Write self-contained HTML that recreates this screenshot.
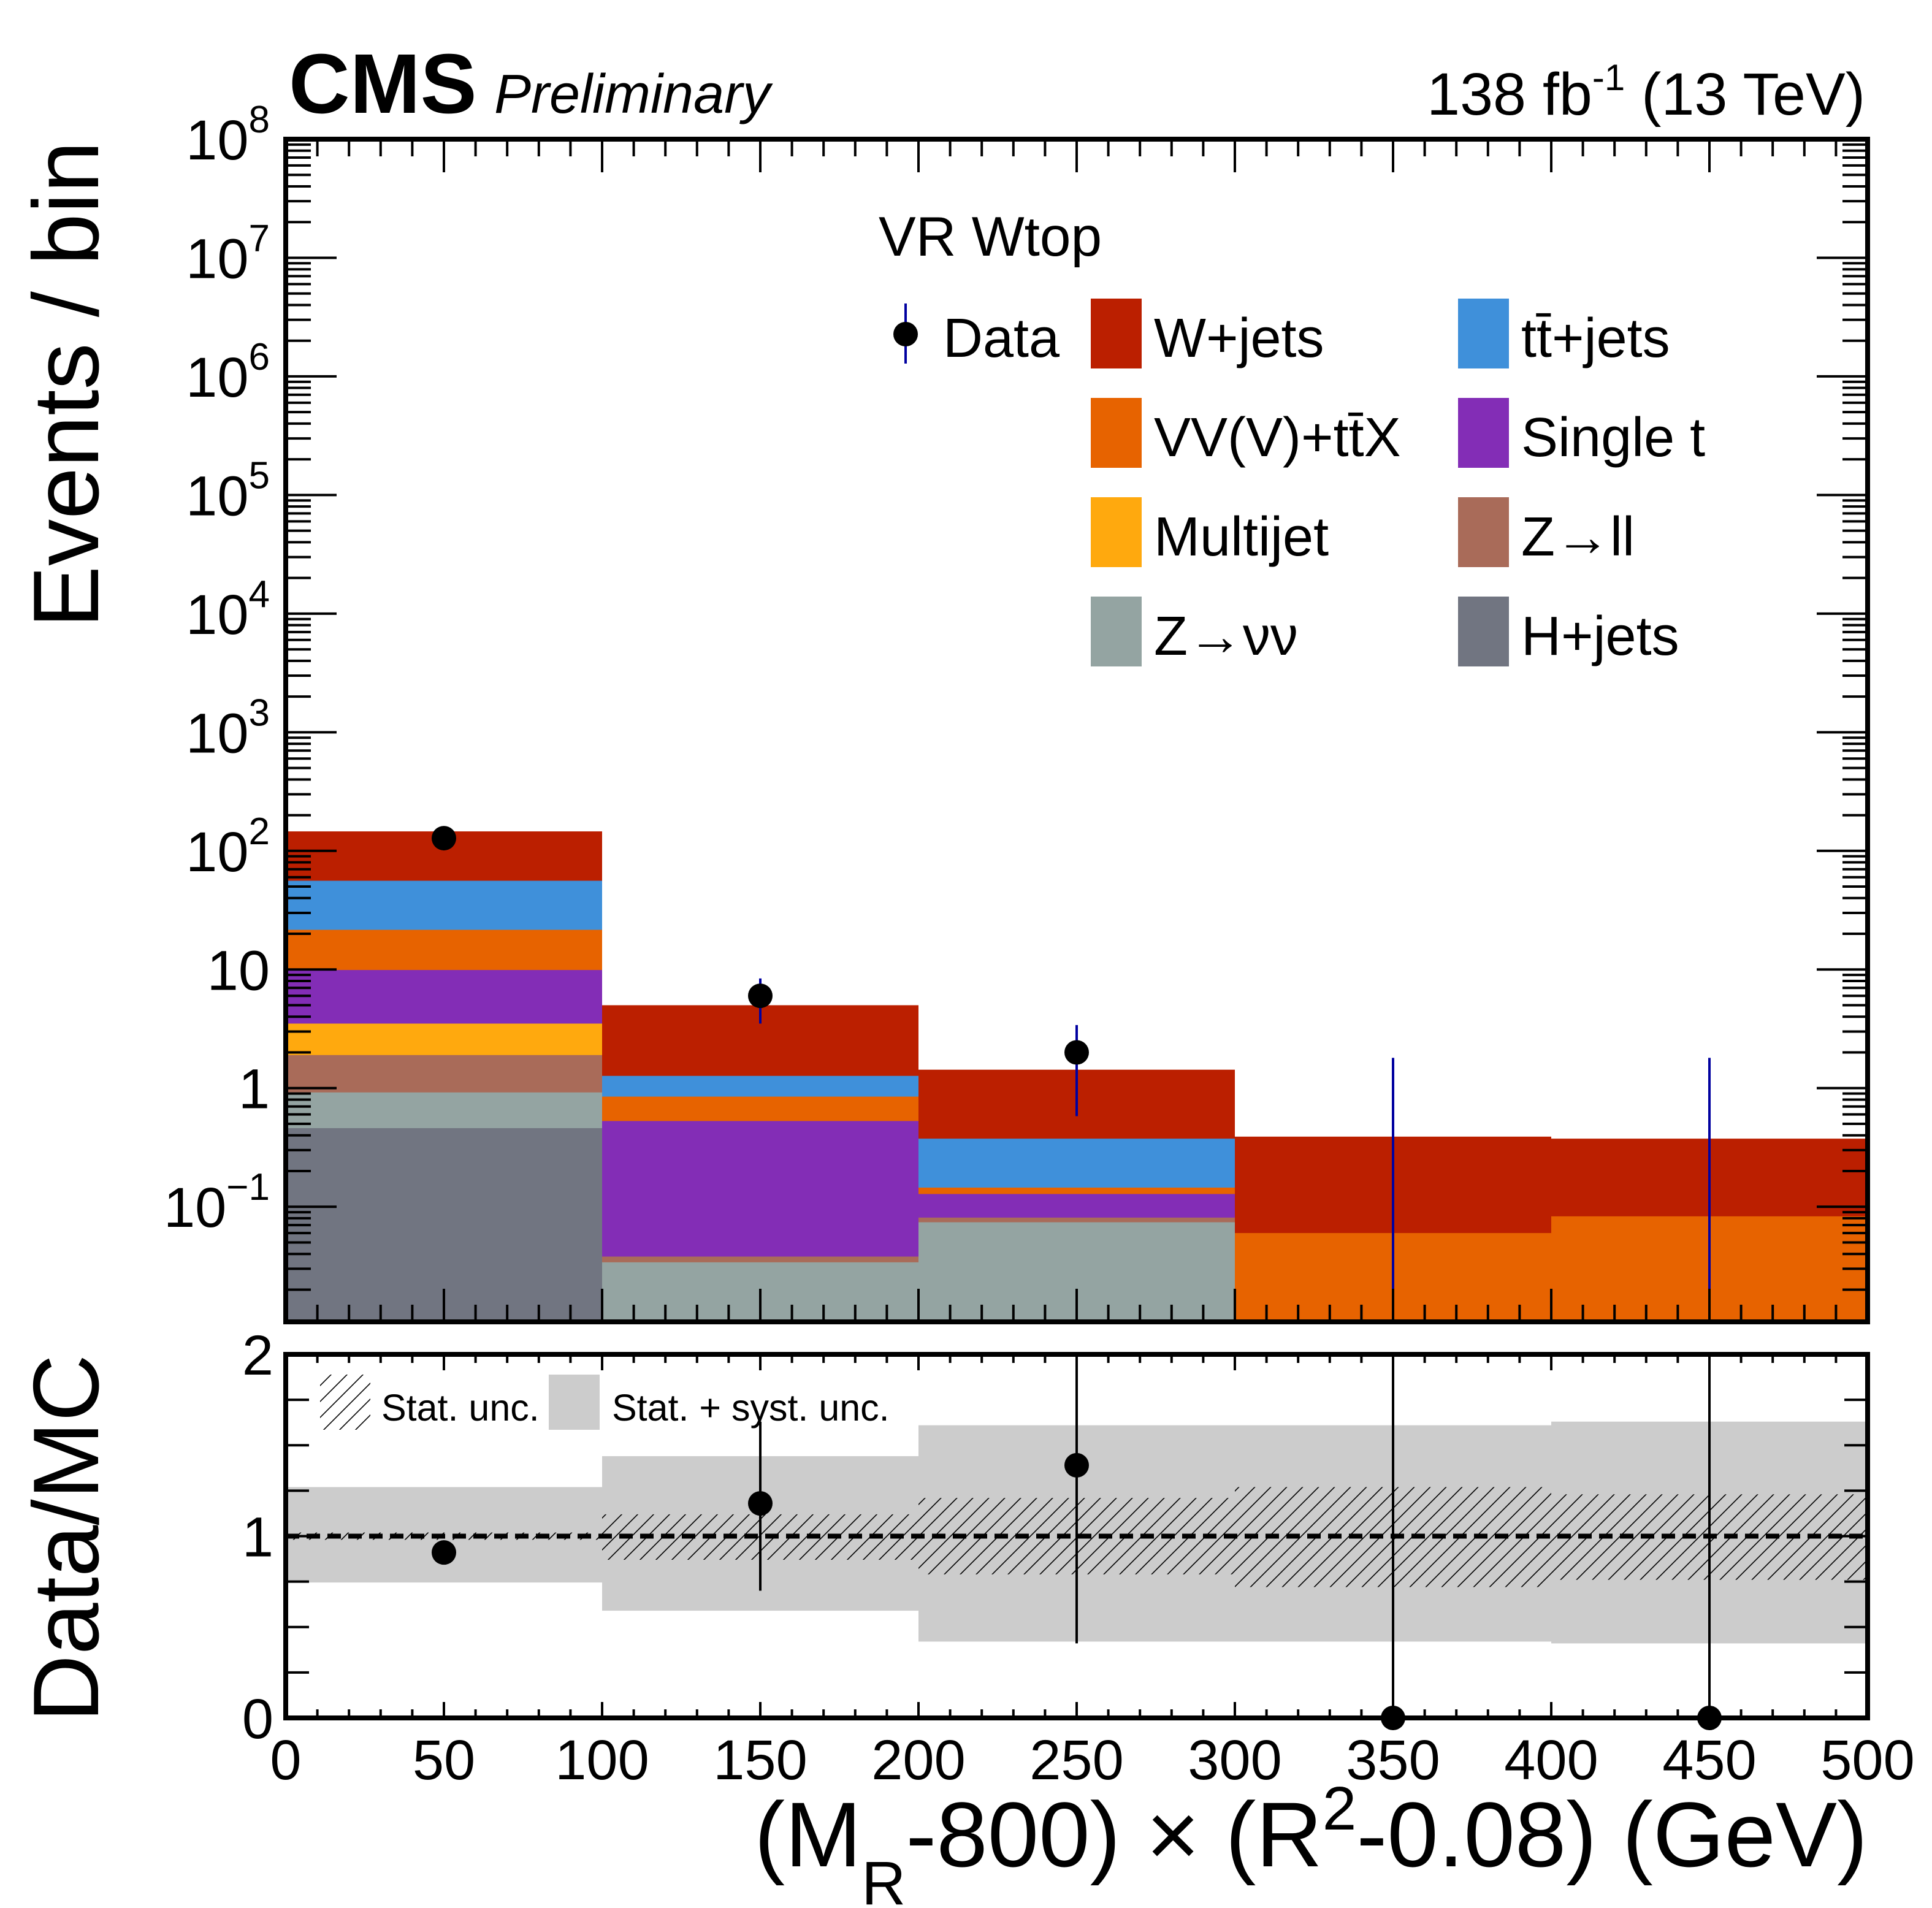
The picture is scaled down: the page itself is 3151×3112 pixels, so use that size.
<!DOCTYPE html>
<html><head><meta charset="utf-8"><style>
html,body{margin:0;padding:0;background:#fff;}
svg{display:block;font-family:"Liberation Sans",sans-serif;}
</style></head><body>
<svg id="c" width="3151" height="3112" viewBox="0 0 3151 3112" xmlns="http://www.w3.org/2000/svg">
<defs>
<pattern id="hatch" patternUnits="userSpaceOnUse" width="26" height="26">
<path d="M-2,28 L28,-2 M-15,15 L15,-15 M11,41 L41,11" stroke="#000" stroke-width="1.6"/>
</pattern>
<clipPath id="clipTop"><rect x="466" y="227" width="2580" height="1929"/></clipPath>
<clipPath id="clipBot"><rect x="466" y="2209" width="2580" height="593"/></clipPath>
</defs>
<g id="topPad"></g>
<g id="botPad"></g>
<g id="txt">
<text x="471" y="184" font-size="138" font-weight="bold">CMS</text>
<text x="806" y="184" font-size="90" font-style="italic">Preliminary</text>
<text x="3042" y="187" font-size="97" text-anchor="end">138 fb<tspan font-size="60" dy="-40">-1</tspan><tspan dy="40"> (13 TeV)</tspan></text>
<text x="1433" y="417" font-size="91">VR Wtop</text>
<text transform="translate(160,230) rotate(-90)" font-size="152" text-anchor="end">Events / bin</text>
<text transform="translate(160,2209) rotate(-90)" font-size="152" text-anchor="end">Data/MC</text>
<text x="3046" y="3044" font-size="150" text-anchor="end">(M<tspan font-size="100" dy="62">R</tspan><tspan dy="-62">-800) × (R</tspan><tspan font-size="100" dy="-60">2</tspan><tspan dy="60">-0.08) (GeV)</tspan></text>
</g>
</svg>
<script>
// ---- data ----
const binEdges = [0,100,200,300,400,500];
const seriesNames = ["H+jets","Z→νν","Z→ll","Multijet","Single t","VV(V)+tt̄X","tt̄+jets","W+jets"];
const seriesColors = ["#717581","#94a4a2","#a96b59","#ffa90e","#832db6","#e76300","#3f90da","#bb1f00"];
const hjets   = [0.46, 0, 0, 0, 0];
const zvv     = [0.46, 0.034, 0.074, 0, 0];
const zll     = [0.98, 0.004, 0.007, 0, 0];
const multijet= [1.6, 0, 0, 0, 0];
const singlet = [6.4, 0.49, 0.047, 0, 0];
const vvv     = [11.7, 0.32, 0.017, 0.060, 0.083];
const ttbar   = [34.4, 0.42, 0.23, 0, 0];
const wjets   = [90, 3.73, 1.055, 0.33, 0.292];
const dataVals = [128, 6.0, 2.0, 0, 0];
const dataErrUp = [140, 8.4, 3.4, 1.8, 1.8];
const dataErrDn = [117, 3.5, 0.58, 0.0107, 0.0107];
const ratioVals = [0.91, 1.18, 1.39, 0, 0];
const ratioErrUp = [0.93, 1.63, 2.1, 2.1, 2.1];
const ratioErrDn = [0.89, 0.70, 0.41, 0, 0];
const systUp = [1.27, 1.44, 1.61, 1.61, 1.63];
const systDn = [0.745, 0.59, 0.42, 0.42, 0.41];
const statUp = [1.02, 1.12, 1.21, 1.27, 1.23];
const statDn = [0.98, 0.87, 0.79, 0.72, 0.76];
const xTicks = [0,50,100,150,200,250,300,350,400,450,500];
const yExps = [8,7,6,5,4,3,2,1,0,-1];
const ratioTicks = [0,1,2];

// ---- axes ----
const X0=466, X1=3046, TY0=227, TY1=2156, BY0=2209, BY1=2802;
const LMIN=Math.log10(0.0107), LMAX=8;
const xs = v => X0 + (v-0)/(500-0)*(X1-X0);
const ys = v => TY1 - (Math.log10(Math.max(v,1e-9))-LMIN)/(LMAX-LMIN)*(TY1-TY0);
const yr = v => BY1 - v/2*(BY1-BY0);
const NS="http://www.w3.org/2000/svg";
function mk(parent, tag, attrs){const e=document.createElementNS(NS,tag);for(const k in attrs)e.setAttribute(k,attrs[k]);parent.appendChild(e);return e;}
const topG=document.getElementById('topPad'), botG=document.getElementById('botPad');
const stacks=[hjets,zvv,zll,multijet,singlet,vvv,ttbar,wjets];

const gTop = mk(topG,'g',{'clip-path':'url(#clipTop)'});
for(let b=0;b<5;b++){
  let cum=[];let s=0;
  for(let i=0;i<stacks.length;i++){s+=stacks[i][b];cum.push(s);}
  for(let i=stacks.length-1;i>=0;i--){
    if(stacks[i][b]<=0) continue;
    const r=mk(gTop,'rect',{x:xs(binEdges[b]),y:ys(cum[i]),width:xs(binEdges[b+1])-xs(binEdges[b]),height:TY1-ys(cum[i]),fill:seriesColors[i]});
    
    
  }
}
for(let b=0;b<5;b++){
  const cx=xs((binEdges[b]+binEdges[b+1])/2);
  const l=mk(gTop,'line',{x1:cx,x2:cx,y1:ys(dataErrUp[b]),y2:ys(dataErrDn[b]),stroke:'#0000a0','stroke-width':4});
  
  
  if(dataVals[b]>0){
    const c=mk(gTop,'circle',{cx:cx,cy:ys(dataVals[b]),r:20,fill:'#000'});
    
    
  }
}
let tk='';
for(let v=0;v<=500;v+=10){const x=xs(v);const L=(v%50===0)?54:28;tk+=`M${x},${TY1}v${-L}M${x},${TY0}v${L}`;}
for(let e=-2;e<8;e++){for(let m=1;m<10;m++){const v=m*Math.pow(10,e);if(v<0.0107||v>1e8)continue;const y=ys(v);const L=m===1?83:41;tk+=`M${X0},${y}h${L}M${X1},${y}h${-L}`;}}
mk(topG,'path',{d:tk,stroke:'#000','stroke-width':4,fill:'none'});
const fr=mk(topG,'rect',{x:X0,y:TY0,width:X1-X0,height:TY1-TY0,fill:'none',stroke:'#000','stroke-width':8});


yExps.forEach(e=>{
  const y=ys(Math.pow(10,e))+33;
  const t=mk(topG,'text',{x:440,y:y,'font-size':92,'text-anchor':'end'});
  if(e===1) t.textContent='10';
  else if(e===0) t.textContent='1';
  else {t.textContent='10';const s=mk(t,'tspan',{'font-size':62,dy:-44});s.textContent=e<0?'−1':String(e);}
  
  
});

const legItems=[[7,1779,487],[6,2378,487],[5,1779,649],[4,2378,649],[3,1779,811],[2,2378,811],[1,1779,973],[0,2378,973]];
const legLabels={7:'W+jets',6:'tt̄+jets',5:'VV(V)+tt̄X',4:'Single t',3:'Multijet',2:'Z→ll',1:'Z→νν',0:'H+jets'};
legItems.forEach(([i,x,y])=>{
  const r=mk(topG,'rect',{x:x,y:y,width:83,height:114,fill:seriesColors[i]});
  
  
  const t=mk(topG,'text',{x:x+103,y:y+95,'font-size':90});
  t.textContent=legLabels[i];
  
  
});
mk(topG,'line',{x1:1477,x2:1477,y1:495,y2:593,stroke:'#0000a0','stroke-width':4});
const lc=mk(topG,'circle',{cx:1477,cy:545,r:20,fill:'#000'});


const ld=mk(topG,'text',{x:1538,y:582,'font-size':90});
ld.textContent='Data';



const gBot=mk(botG,'g',{'clip-path':'url(#clipBot)'});
for(let b=0;b<5;b++){
  const x=xs(binEdges[b]),w=xs(binEdges[b+1])-x;
  const r=mk(gBot,'rect',{x:x,y:yr(systUp[b]),width:w,height:yr(systDn[b])-yr(systUp[b]),fill:'#cccccc'});
  
  
  const h=mk(gBot,'rect',{x:x,y:yr(statUp[b]),width:w,height:yr(statDn[b])-yr(statUp[b]),fill:'url(#hatch)'});
  
  
}
mk(gBot,'line',{x1:X0,x2:X1,y1:yr(1),y2:yr(1),stroke:'#000','stroke-width':8,'stroke-dasharray':'22,12'});
for(let b=0;b<5;b++){
  const cx=xs((binEdges[b]+binEdges[b+1])/2);
  const l=mk(gBot,'line',{x1:cx,x2:cx,y1:yr(ratioErrUp[b]),y2:yr(ratioErrDn[b]),stroke:'#000','stroke-width':4});
  
  
}
for(let b=0;b<5;b++){
  const cx=xs((binEdges[b]+binEdges[b+1])/2);
  const c=mk(botG,'circle',{cx:cx,cy:yr(ratioVals[b]),r:20,fill:'#000'});
  
  
}
let tb='';
for(let v=0;v<=500;v+=10){const x=xs(v);const L=(v%50===0)?26:14;tb+=`M${x},${BY1}v${-L}M${x},${BY0}v${L}`;}
for(let v=0;v<=2.0001;v+=0.25){const y=yr(v);const L=(Math.abs(v-Math.round(v))<1e-6)?54:38;tb+=`M${X0},${y}h${L}M${X1},${y}h${-L}`;}
mk(botG,'path',{d:tb,stroke:'#000','stroke-width':4,fill:'none'});
const bf=mk(botG,'rect',{x:X0,y:BY0,width:X1-X0,height:BY1-BY0,fill:'none',stroke:'#000','stroke-width':8});


ratioTicks.forEach(v=>{
  const t=mk(botG,'text',{x:446,y:yr(v)+33,'font-size':92,'text-anchor':'end'});
  t.textContent=String(v);
  
  
});
xTicks.forEach(v=>{
  const t=mk(botG,'text',{x:xs(v),y:2902,'font-size':92,'text-anchor':'middle'});
  t.textContent=String(v);
  
  
});
const hb=mk(botG,'rect',{x:522,y:2242,width:82,height:90,fill:'url(#hatch)'});


const ht=mk(botG,'text',{x:622,y:2317,'font-size':61});
ht.textContent='Stat. unc.';


const gb=mk(botG,'rect',{x:895,y:2242,width:83,height:90,fill:'#cccccc'});


const gt=mk(botG,'text',{x:998,y:2317,'font-size':61});
gt.textContent='Stat. + syst. unc.';


</script>
</body></html>
